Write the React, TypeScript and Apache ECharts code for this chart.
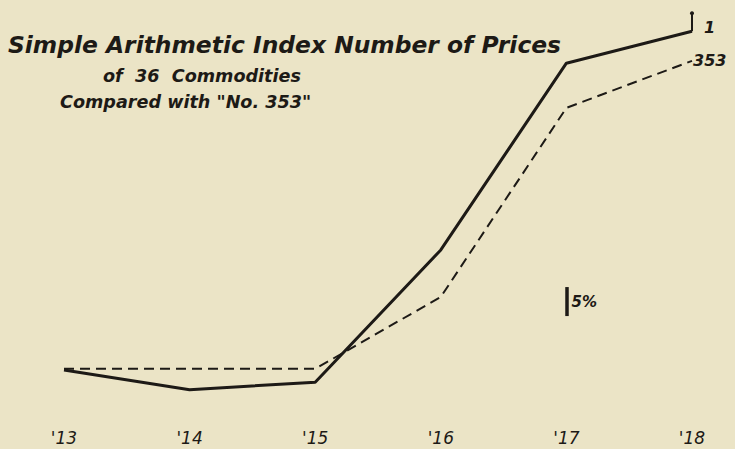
import React, { useEffect, useRef } from "react";
import * as echarts from "echarts";

const years = ["'13", "'14", "'15", "'16", "'17", "'18"];
const index36 = [100, 96.6, 97.9, 120.7, 152.9, 158.4];
const no353 = [100.2, 100.2, 100.2, 112.6, 145.2, 153.3];
const seriesNames = ["1", "353"];
const scaleBar = [109.3, 114.3];
const titleLines = [
  "Simple Arithmetic Index Number of Prices",
  "of  36  Commodities",
  "Compared with \"No. 353\"",
];

const INK = "#1d1a16";
const FONT = "'DejaVu Sans', sans-serif";

export default function App() {
  const ref = useRef<HTMLDivElement>(null);
  useEffect(() => {
    if (!ref.current) return;
    const chart = echarts.init(ref.current, null, { renderer: "svg" });
    chart.setOption({
      animation: false,
      backgroundColor: "#ebe4c6",
      grid: { left: 64, right: 43, top: 10.4, bottom: 21 },
      xAxis: {
        type: "category",
        data: years,
        boundaryGap: false,
        axisLine: { show: false },
        axisTick: { show: false },
        splitLine: { show: false },
        axisLabel: {
          color: INK,
          fontFamily: FONT,
          fontStyle: "italic",
          fontSize: 17,
          margin: 1,
        },
      },
      yAxis: {
        type: "value",
        min: 90,
        max: 162,
        show: false,
        splitLine: { show: false },
      },
      graphic: [
        {
          type: "text",
          left: 8,
          top: 33,
          style: {
            text: titleLines[0],
            fill: INK,
            font: `italic bold 23.4px ${FONT}`,
          },
        },
        {
          type: "text",
          left: 103,
          top: 67,
          style: {
            text: titleLines[1],
            fill: INK,
            font: `italic bold 17.6px ${FONT}`,
          },
        },
        {
          type: "text",
          left: 60,
          top: 93,
          style: {
            text: titleLines[2],
            fill: INK,
            font: `italic bold 17.6px ${FONT}`,
          },
        },
      ],
      series: [
        {
          name: seriesNames[0],
          type: "line",
          data: index36,
          symbol: "none",
          lineStyle: { color: INK, width: 3, type: "solid" },
          endLabel: {
            show: true,
            formatter: seriesNames[0],
            color: INK,
            fontFamily: FONT,
            fontStyle: "italic",
            fontWeight: "bold",
            fontSize: 16,
            offset: [4, -4],
          },
          markLine: {
            silent: true,
            symbol: ["none", "circle"],
            symbolSize: 4,
            label: { show: false },
            lineStyle: { color: INK, width: 2, type: "solid" },
            data: [
              [
                { coord: [years[5], index36[5]] },
                { coord: [years[5], 161.5] },
              ],
            ],
          },
        },
        {
          name: seriesNames[1],
          type: "line",
          data: no353,
          symbol: "none",
          lineStyle: { color: INK, width: 2, type: [10, 6] },
          endLabel: {
            show: true,
            formatter: seriesNames[1],
            color: INK,
            fontFamily: FONT,
            fontStyle: "italic",
            fontWeight: "bold",
            fontSize: 16,
            distance: 1,
          },
          markLine: {
            silent: true,
            symbol: ["none", "none"],
            label: { show: false },
            lineStyle: { color: INK, width: 3.5, type: "solid" },
            data: [
              [
                { coord: [years[4], scaleBar[0]] },
                { coord: [years[4], scaleBar[1]] },
              ],
            ],
          },
          markPoint: {
            silent: true,
            symbol: "rect",
            symbolSize: [0.1, 0.1],
            label: {
              show: true,
              position: "right",
              distance: 5,
              formatter: "5%",
              color: INK,
              fontFamily: FONT,
              fontStyle: "italic",
              fontWeight: "bold",
              fontSize: 15,
            },
            data: [{ coord: [years[4], (scaleBar[0] + scaleBar[1]) / 2] }],
          },
        },
      ],
    });
    return () => chart.dispose();
  }, []);
  return <div ref={ref} style={{ width: 735, height: 449, position: "absolute", left: 0, top: 0 }} />;
}
